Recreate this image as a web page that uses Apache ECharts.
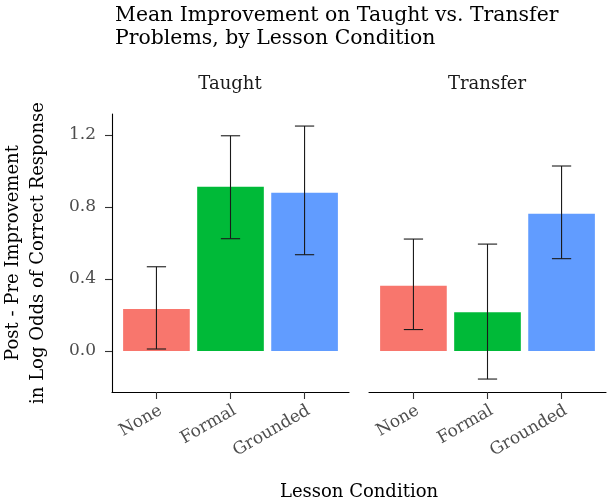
<!DOCTYPE html>
<html>
<head>
<meta charset="utf-8">
<script src="https://cdn.jsdelivr.net/npm/echarts@6/dist/echarts.min.js"></script>
<style>
  html, body { margin: 0; padding: 0; background: #fff; }
  #main { width: 611px; height: 503px; }
</style>
</head>
<body>
<div id="main"></div>
<script>
// Mean improvement, two facets (Taught / Transfer)
var conditions = ['None', 'Formal', 'Grounded'];
var barColors = ['#F8766D', '#00BA38', '#619CFF'];

var taughtMean = [0.233, 0.913, 0.880];
var taughtLow = [0.011, 0.624, 0.535];
var taughtHigh = [0.468, 1.196, 1.250];

var transferMean = [0.363, 0.215, 0.763];
var transferLow = [0.119, -0.156, 0.513];
var transferHigh = [0.622, 0.594, 1.028];

var yTicks = [0, 0.4, 0.8, 1.2];
var xTicks = [1, 2, 3];

var FONT = 'DejaVu Serif';
var chart = echarts.init(document.getElementById('main'));

function barData(means) {
    return means.map(function (v, i) { return [xTicks[i], v]; });
}
function errData(lo, hi) {
    return lo.map(function (v, i) { return [xTicks[i], v, hi[i]]; });
}

// error bar: vertical line + two caps
function renderErr(params, api) {
    var x = api.value(0);
    var pLo = api.coord([x, api.value(1)]);
    var pHi = api.coord([x, api.value(2)]);
    var half = api.size([0.13, 0])[0];
    var st = { stroke: '#1a1a1a', lineWidth: 1.1 };
    return {
        type: 'group',
        children: [
            { type: 'line', shape: { x1: pLo[0], y1: pLo[1], x2: pHi[0], y2: pHi[1] }, style: st },
            { type: 'line', shape: { x1: pLo[0] - half, y1: pLo[1], x2: pLo[0] + half, y2: pLo[1] }, style: st },
            { type: 'line', shape: { x1: pHi[0] - half, y1: pHi[1], x2: pHi[0] + half, y2: pHi[1] }, style: st }
        ]
    };
}

function xAxisFor(idx) {
    return {
        type: 'value',
        gridIndex: idx,
        min: 0.4,
        max: 3.6,
        splitLine: { show: false },
        axisLine: { show: true, onZero: false, lineStyle: { color: '#000', width: 1.1 } },
        axisTick: { show: true, customValues: xTicks, length: 7, lineStyle: { color: '#333', width: 1.1 } },
        axisLabel: {
            show: true,
            customValues: xTicks,
            rotate: 30,
            verticalAlign: 'top',
            margin: 10,
            fontFamily: FONT,
            fontSize: 17,
            color: '#4d4d4d',
            formatter: function (v) { return conditions[Math.round(v) - 1]; }
        }
    };
}

var option = {
    animation: false,
    title: {
        text: 'Mean Improvement on Taught vs. Transfer\nProblems, by Lesson Condition',
        left: 110,
        top: -1,
        textStyle: { fontFamily: FONT, fontSize: 20.4, fontWeight: 'normal', color: '#000', lineHeight: 23 }
    },
    graphic: [
        { type: 'text', x: 230, y: 75, style: { text: 'Taught', fontFamily: FONT, fontSize: 18, fill: '#1a1a1a', align: 'center', verticalAlign: 'top' } },
        { type: 'text', x: 487, y: 75, style: { text: 'Transfer', fontFamily: FONT, fontSize: 18, fill: '#1a1a1a', align: 'center', verticalAlign: 'top' } },
        { type: 'text', x: 359, y: 492, style: { text: 'Lesson Condition', fontFamily: FONT, fontSize: 18, fill: '#000', align: 'center', verticalAlign: 'middle' } }
    ],
    grid: [
        { left: 112, top: 114, width: 237, height: 278 },
        { left: 369, top: 114, width: 237, height: 278 }
    ],
    xAxis: [xAxisFor(0), xAxisFor(1)],
    yAxis: [
        {
            type: 'value',
            gridIndex: 0,
            min: -0.228,
            max: 1.317,
            name: 'Post - Pre Improvement\nin Log Odds of Correct Response',
            nameLocation: 'middle',
            nameGap: 61,
            nameTextStyle: { fontFamily: FONT, fontSize: 18, color: '#000', lineHeight: 25 },
            splitLine: { show: false },
            axisLine: { show: true, lineStyle: { color: '#000', width: 1.1 } },
            axisTick: { show: true, customValues: yTicks, length: 7, lineStyle: { color: '#333', width: 1.1 } },
            axisLabel: {
                customValues: yTicks,
                margin: 16,
                fontFamily: FONT,
                fontSize: 17,
                color: '#4d4d4d',
                formatter: function (v) { return v.toFixed(1); }
            }
        },
        {
            type: 'value',
            gridIndex: 1,
            min: -0.228,
            max: 1.317,
            show: false,
            splitLine: { show: false }
        }
    ],
    series: [
        {
            type: 'bar', xAxisIndex: 0, yAxisIndex: 0, barWidth: '90%',
            data: barData(taughtMean),
            itemStyle: { color: function (p) { return barColors[p.dataIndex]; } }
        },
        {
            type: 'bar', xAxisIndex: 1, yAxisIndex: 1, barWidth: '90%',
            data: barData(transferMean),
            itemStyle: { color: function (p) { return barColors[p.dataIndex]; } }
        },
        {
            type: 'custom', xAxisIndex: 0, yAxisIndex: 0, renderItem: renderErr,
            data: errData(taughtLow, taughtHigh), z: 5
        },
        {
            type: 'custom', xAxisIndex: 1, yAxisIndex: 1, renderItem: renderErr,
            data: errData(transferLow, transferHigh), z: 5
        }
    ]
};

chart.setOption(option);
</script>
</body>
</html>
